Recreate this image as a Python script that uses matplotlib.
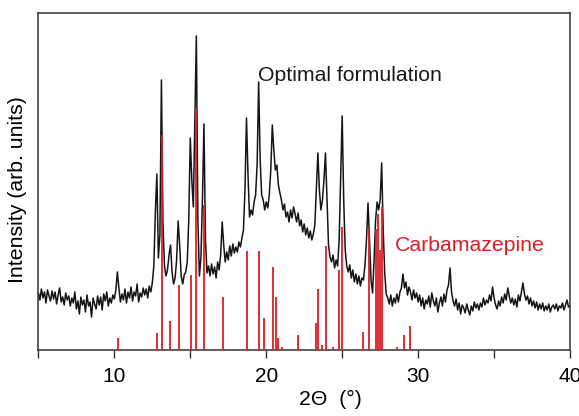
import numpy as np
import matplotlib
matplotlib.use('Agg')
import matplotlib.pyplot as plt

plt.rcParams['font.family'] = ['Liberation Sans', 'DejaVu Sans']

# XRD pattern of the optimal formulation, one row per degree (step 0.1 deg, 5 -> 40)
intensity_rows = [
    [57, 50, 61, 52, 58, 47, 60, 54, 49, 59],        # 5
    [51, 58, 46, 55, 62, 48, 53, 45, 57, 50],        # 6
    [54, 44, 52, 47, 58, 41, 49, 36, 53, 45],        # 7
    [50, 38, 55, 44, 48, 33, 52, 46, 41, 54],        # 8
    [45, 53, 40, 56, 49, 58, 44, 52, 47, 55],        # 9
    [51, 60, 78, 62, 48, 56, 50, 61, 47, 58],        # 10
    [52, 63, 49, 58, 54, 66, 48, 57, 53, 62],        # 11
    [55, 61, 52, 64, 58, 67, 84, 138, 176, 92],      # 12
    [115, 270, 128, 84, 74, 80, 95, 105, 78, 66],    # 13
    [72, 90, 129, 105, 74, 66, 75, 78, 88, 130],     # 14
    [212, 170, 143, 230, 314, 130, 74, 92, 150, 226],  # 15
    [110, 77, 84, 74, 86, 76, 83, 72, 88, 80],       # 16
    [95, 128, 105, 88, 98, 90, 104, 94, 106, 97],    # 17
    [103, 98, 108, 103, 112, 120, 160, 232, 175, 133],  # 18
    [140, 135, 148, 155, 185, 268, 190, 155, 150, 140],  # 19
    [148, 142, 155, 180, 225, 200, 180, 185, 165, 157],  # 20
    [150, 140, 146, 133, 138, 128, 140, 132, 143, 136],  # 21
    [128, 137, 124, 130, 118, 126, 115, 122, 112, 119],  # 22
    [110, 116, 125, 160, 197, 160, 140, 150, 170, 197],  # 23
    [150, 105, 93, 88, 95, 82, 90, 84, 110, 170],    # 24
    [234, 150, 100, 84, 78, 85, 72, 80, 68, 76],     # 25
    [66, 74, 64, 72, 70, 85, 110, 147, 110, 70],     # 26
    [57, 90, 130, 148, 140, 150, 187, 120, 77, 56],  # 27
    [52, 46, 55, 44, 52, 47, 56, 48, 58, 62],        # 28
    [76, 62, 68, 55, 63, 58, 50, 60, 52, 57],        # 29
    [48, 55, 44, 52, 41, 50, 46, 54, 43, 57],        # 30
    [49, 44, 52, 38, 47, 53, 44, 56, 48, 60],        # 31
    [65, 82, 58, 49, 44, 51, 40, 47, 36, 45],        # 32
    [42, 37, 46, 40, 35, 44, 39, 48, 42, 46],        # 33
    [40, 47, 43, 52, 45, 50, 47, 55, 49, 63],        # 34
    [52, 45, 41, 49, 44, 53, 47, 56, 50, 62],        # 35
    [54, 47, 52, 45, 51, 43, 55, 49, 58, 67],        # 36
    [56, 50, 54, 46, 52, 44, 49, 42, 48, 40],        # 37
    [46, 41, 47, 39, 44, 40, 46, 38, 43, 45],        # 38
    [41, 46, 39, 44, 42, 47, 40, 45, 50, 43],        # 39
    [44],                                            # 40
]

# reference peaks of carbamazepine (position, relative height)
cbz_pos = [10.22, 12.78, 13.15, 13.69, 14.24, 15.04, 15.36, 15.92, 17.14,
           18.74, 19.53, 19.83, 20.42, 20.65, 20.76, 21.02, 22.07, 23.30,
           23.43, 23.64, 23.95, 24.39, 24.78, 25.00, 26.35, 26.75, 27.21,
           27.33, 27.52, 27.65, 28.62, 29.05, 29.45]
cbz_height = [12, 17, 215, 29, 65, 75, 242, 145, 53,
              99, 99, 32, 83, 53, 12, 3, 15, 27,
              61, 5, 104, 3, 80, 123, 18, 121, 121,
              136, 100, 143, 3, 15, 24]

intensity = [v for row in intensity_rows for v in row]
two_theta = np.round(np.linspace(5, 40, len(intensity)), 2)

red = '#dc1e24'

fig = plt.figure(figsize=(5.79, 4.16), dpi=100)
ax = fig.add_axes([0.0663, 0.1587, 0.9182, 0.8101])

ax.plot(two_theta, intensity, color='#151515', lw=1.1, zorder=2)
ax.vlines(cbz_pos, 0, cbz_height, color=red, lw=1.3, zorder=3)

ax.text(19.48, 269, 'Optimal formulation', fontsize=15.3, color='#1a1a1a', va='baseline')
ax.text(28.48, 99, 'Carbamazepine', fontsize=15.3, color=red, va='baseline')

ax.set_xlim(5, 40)
ax.set_ylim(0, 337)
ax.set_xticks([10, 20, 30, 40])
ax.set_xticks([5, 15, 25, 35], minor=True)
ax.set_yticks([])
ax.tick_params(axis='x', which='both', direction='out', length=6, width=1,
               color='#333333', labelsize=15, pad=6)
for s in ax.spines.values():
    s.set_color('#333333')
    s.set_linewidth(1.1)

ax.set_xlabel('2Θ  (°)', fontsize=15.3)
ax.xaxis.set_label_coords(0.55, -0.12)
ax.set_ylabel('Intensity (arb. units)', fontsize=15.3)
ax.yaxis.set_label_coords(-0.022, 0.475)

fig.savefig('out.png', dpi=100)
